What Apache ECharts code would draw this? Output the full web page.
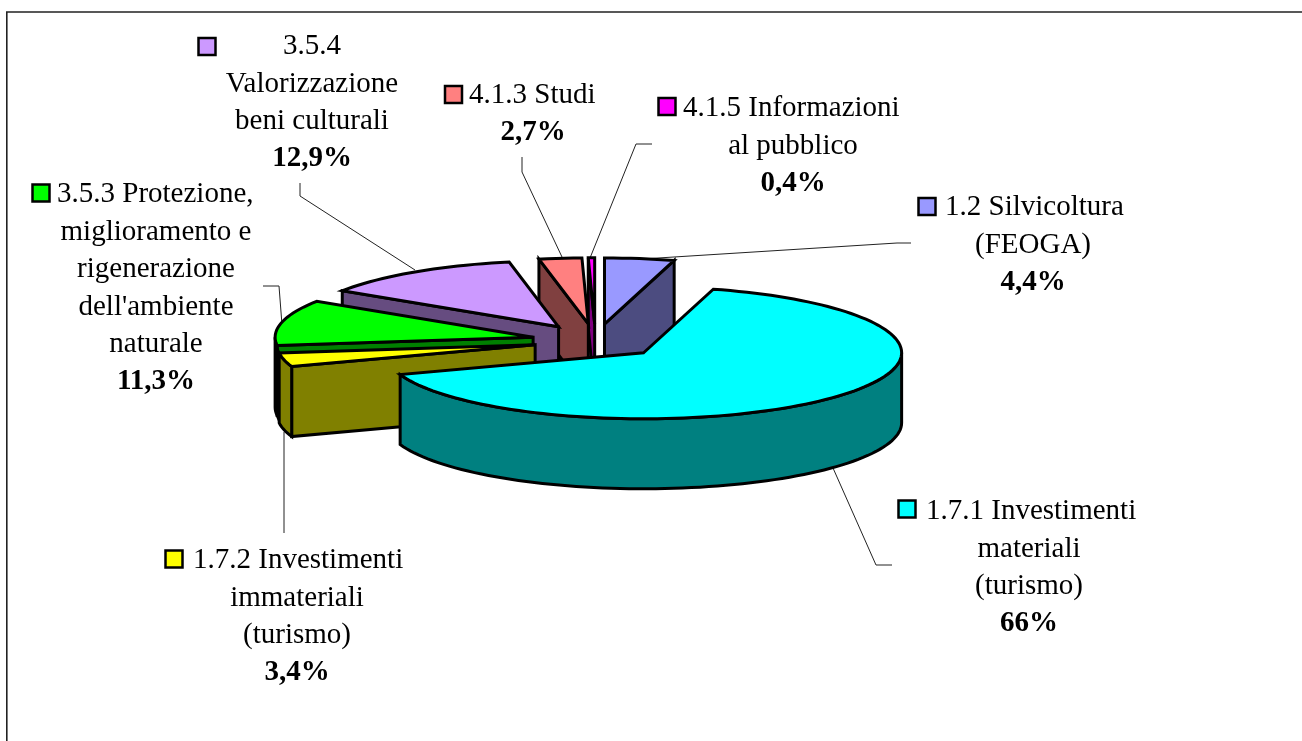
<!DOCTYPE html>
<html><head><meta charset="utf-8">
<style>html,body{margin:0;padding:0;background:#fff}#c{width:1302px;height:741px}</style>
<script src="https://cdn.jsdelivr.net/npm/echarts@6/dist/echarts.min.js"></script>
</head><body><div id="c"></div>
<script>
// ---- data ----
const categories = ['1.2 Silvicoltura','1.7.1 Investimenti','1.7.2 Investimenti','3.5.3 Protezione,','3.5.4','4.1.3 Studi','4.1.5 Informazioni'];
const extraLines = [['(FEOGA)'],['materiali','(turismo)'],['immateriali','(turismo)'],['miglioramento e','rigenerazione',"dell'ambiente",'naturale'],['Valorizzazione','beni culturali'],[],['al pubblico']];
const values = [4.4,66,3.4,11.3,12.9,2.7,0.4];
// ---- styles ----
const topColors  = ['#9999FF','#00FFFF','#FFFF00','#00FF00','#CC99FF','#FF8080','#FF00FF'];
const sideColors = ['#4C4C80','#008080','#808000','#008000','#664C80','#804040','#800080'];
// ---- layout ----
const cx=595.5, cy=341, rx=258, ry=66, depth=70, tilt=0.26;
const explodeBySlice=[66,66,62,64,66,66,66];
const drawOrder=[6,0,5,4,3,2,1];
// label layout: [centre x of the text block, baseline of first line, left x of first line or null, key x, key y]
const labelLayout=[
 [1033,215,945,927,206.5],
 [1029,519,926,907,509],
 [297,568,193,174,559],
 [156,202,57,41,193],
 [312,54,null,207,46.5],
 [533,103,469,453.5,94.5],
 [793,116,683,667,106.5]
];
const lineH=37.5, fontSize=29, baselineShift=7.5, fontFamily='"Liberation Serif","Times New Roman",serif';
const leaders=[
 [[650,258.5],[897,243],[911,243]],
 [[833,468],[876,565],[892,565]],
 [[284,432],[284,533]],
 [[282,325],[279,286],[263,286]],
 [[415,270],[300,196],[300,183]],
 [[562,257],[522,172],[522,157]],
 [[590,258],[636,144],[652,144]]
];
// ---- geometry from the values ----
const total=values.reduce((a,b)=>a+b,0);
const rad=d=>d*Math.PI/180;
let acc=0;
const spans=values.map(v=>{const s=acc/total*360;acc+=v;return [s,acc/total*360];});
function sliceShapes(i){
  const [a0,a1]=spans[i], mid=(a0+a1)/2, explode=explodeBySlice[i];
  const ax=cx+explode*Math.sin(rad(mid)), ay=cy-explode*tilt*Math.cos(rad(mid));
  const P=a=>[ax+rx*Math.sin(rad(a)), ay-ry*Math.cos(rad(a))];
  const down=p=>[p[0],p[1]+depth];
  const arc=(s,e)=>{const n=Math.max(2,Math.ceil((e-s)/2)),o=[];for(let k=0;k<=n;k++)o.push(P(s+(e-s)*k/n));return o;};
  const style=c=>({fill:c,stroke:'#000',lineWidth:3,lineJoin:'miter'});
  const out=[], A=[ax,ay];
  const poly=(pts,c)=>out.push({type:'polygon',shape:{points:pts},style:style(c)});
  if(Math.sin(rad(a0))<0){const p=P(a0);poly([A,p,down(p),down(A)],sideColors[i]);}
  if(Math.sin(rad(a1))>0.001){const p=P(a1);poly([A,p,down(p),down(A)],sideColors[i]);}
  const s=Math.max(a0,90),e=Math.min(a1,270);
  if(e>s){const t=arc(s,e);poly(t.concat(t.map(down).reverse()),sideColors[i]);}
  poly([A].concat(arc(a0,a1)),topColors[i]);
  return out;
}
const fmt=v=>String(v).replace('.',',')+'%';
function labelShapes(i){
  const [bx,by,lx,kx,ky]=labelLayout[i], out=[];
  out.push({type:'polyline',shape:{points:leaders[i]},style:{fill:null,stroke:'#222',lineWidth:1}});
  out.push({type:'rect',shape:{x:kx-8.5,y:ky-8.5,width:17,height:17},style:{fill:topColors[i],stroke:'#000',lineWidth:2.5}});
  const txt=(s,x,y,align,bold)=>out.push({type:'text',x:x,y:y-baselineShift,style:{text:s,fill:'#000',align:align,verticalAlign:'middle',font:(bold?'bold ':'')+fontSize+'px '+fontFamily}});
  if(lx===null) txt(categories[i],bx,by,'center',false); else txt(categories[i],lx,by,'left',false);
  let y=by;
  extraLines[i].forEach(l=>{y+=lineH;txt(l,bx,y,'center',false);});
  y+=lineH; txt(fmt(values[i]),bx,y,'center',true);
  return out;
}
const chart=echarts.init(document.getElementById('c'),null,{renderer:'canvas'});
chart.setOption({
  animation:false,
  backgroundColor:'#fff',
  graphic:[
   {type:'polyline',shape:{points:[[6.8,741],[6.8,12],[1302,12]]},style:{fill:null,stroke:'#222',lineWidth:1.6},silent:true}
  ],
  series:[
   {type:'custom',coordinateSystem:'none',z:3,silent:true,data:drawOrder.map(i=>[i]),
    renderItem:(p,api)=>({type:'group',children:sliceShapes(api.value(0))})},
   {type:'custom',coordinateSystem:'none',z:2,silent:true,data:values.map((v,i)=>[i]),
    renderItem:(p,api)=>({type:'group',children:labelShapes(api.value(0))})}
  ]
});
</script></body></html>
